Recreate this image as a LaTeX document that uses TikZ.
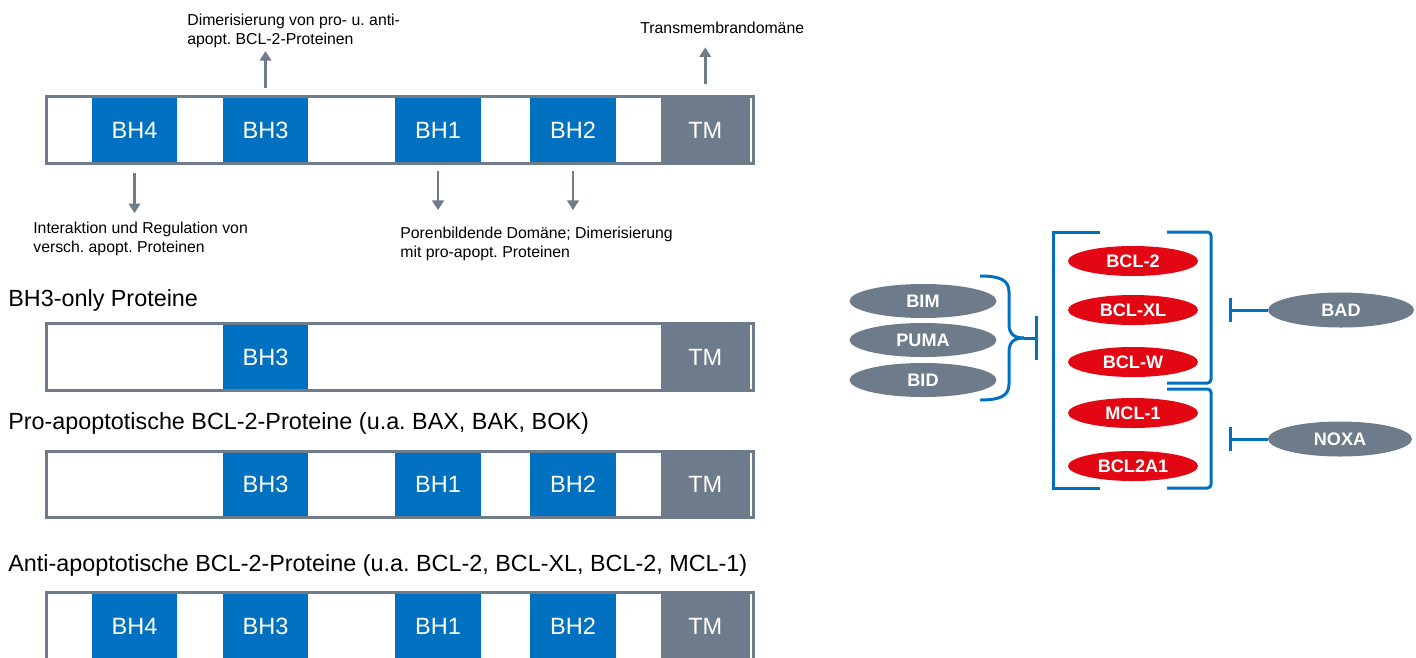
\documentclass[tikz,border=0pt]{standalone}
\usepackage{fontspec}
\setmainfont{Liberation Sans}
\usetikzlibrary{arrows.meta,shapes.geometric,calc}
\definecolor{bhblue}{HTML}{0070C0}
\definecolor{slate}{HTML}{6E7B8B}
\definecolor{bclred}{HTML}{E30613}
\frenchspacing
\begin{document}
\begin{tikzpicture}[x=0.02cm,y=-0.02cm,
  barbg/.style={fill=white,draw=none,minimum width=14.13cm,minimum height=1.32cm,inner sep=0},
  barline/.style={draw=slate,line width=1.7pt},
  bhbox/.style={fill=bhblue,text=white,minimum height=1.32cm,inner sep=0,font=\fontsize{13.4}{16}\selectfont},
  tmbox/.style={bhbox,fill=slate},
  heading/.style={anchor=base west,inner sep=0,font=\fontsize{13.3}{16}\selectfont},
  note/.style={anchor=north west,inner sep=0,align=left,font=\fontsize{9}{10.8}\selectfont},
  arr/.style={draw=slate,line width=1.5pt,-{Triangle[width=6.5pt,length=5.5pt]}},
  protgray/.style={ellipse,fill=slate,text=white,inner sep=0,minimum width=2.94cm,minimum height=0.68cm,font=\bfseries\fontsize{10.3}{12}\selectfont},
  protred/.style={ellipse,fill=bclred,text=white,inner sep=0,minimum width=2.6cm,minimum height=0.6cm,font=\bfseries\fontsize{10.3}{12}\selectfont},
  brk/.style={draw=bhblue,line width=1.7pt},
  inh/.style={draw=bhblue,line width=1.7pt,-{Bar[width=14pt]}}
]
\useasboundingbox (0,0) rectangle (1416,657);
\clip (0,0) rectangle (1416,657);

% ---------- bar 1 (full domain structure)
\node[barbg] (bar1) at (399.75,130) {};
\node[bhbox,minimum width=1.7cm] (a4) at (134.5,130) {BH4};
\node[bhbox,minimum width=1.7cm] (a3) at (265.5,130) {BH3};
\node[bhbox,minimum width=1.72cm] (a1) at (438,130) {BH1};
\node[bhbox,minimum width=1.72cm] (a2) at (573,130) {BH2};
\node[tmbox,minimum width=1.77cm] (at) at (705.25,130) {TM};
\fill[white] (749.5,99) rectangle (751.5,161);
\draw[barline] (bar1.south west) rectangle (bar1.north east);

% notes
\node[note] (n1) at (187,14) {Dimerisierung von pro- u. anti-\\apopt. BCL-2-Proteinen};
\node[note] (n2) at (640,22) {Transmembrandomäne};
\node[note] (n3) at (33,222) {Interaktion und Regulation von\\versch. apopt. Proteinen};
\node[note] (n4) at (400,227) {Porenbildende Domäne; Dimerisierung\\mit pro-apopt. Proteinen};

\draw[arr,shorten <=5pt,shorten >=1.5pt] (a3.north) -- (a3.north |- n1.south);
\draw[arr,shorten <=7.4pt,shorten >=7.4pt] (at.north) -- (at.north |- n2.south);
\draw[arr,shorten <=5.7pt,shorten >=5pt] (a4.south) -- (a4.south |- n3.north);
\draw[arr,shorten <=4.5pt,shorten >=9.6pt] (a1.south) -- (a1.south |- n4.north);
\draw[arr,shorten <=4.5pt,shorten >=9.6pt] (a2.south) -- (a2.south |- n4.north);

% ---------- bar 2 (BH3-only)
\node[heading] (h2) at (8,306) {BH3-only Proteine};
\node[barbg] (bar2) at (399.75,357) {};
\node[bhbox,minimum width=1.7cm] (b3) at (265.5,357) {BH3};
\node[tmbox,minimum width=1.77cm] (bt) at (705.25,357) {TM};
\fill[white] (749.5,326) rectangle (751.5,388);
\draw[barline] (bar2.south west) rectangle (bar2.north east);

% ---------- bar 3 (pro-apoptotic)
\node[heading] (h3) at (8,429) {Pro-apoptotische BCL-2-Proteine (u.a. BAX, BAK, BOK)};
\node[barbg] (bar3) at (399.75,484.5) {};
\node[bhbox,minimum width=1.7cm] (c3) at (265.5,484.5) {BH3};
\node[bhbox,minimum width=1.72cm] (c1) at (438,484.5) {BH1};
\node[bhbox,minimum width=1.72cm] (c2) at (573,484.5) {BH2};
\node[tmbox,minimum width=1.77cm] (ct) at (705.25,484.5) {TM};
\fill[white] (749.5,453.5) rectangle (751.5,515.5);
\draw[barline] (bar3.south west) rectangle (bar3.north east);

% ---------- bar 4 (anti-apoptotic)
\node[heading] (h4) at (8,571) {Anti-apoptotische BCL-2-Proteine (u.a. BCL-2, BCL-XL, BCL-2, MCL-1)};
\node[barbg] (bar4) at (399.75,626) {};
\node[bhbox,minimum width=1.7cm] (d4) at (134.5,626) {BH4};
\node[bhbox,minimum width=1.7cm] (d3) at (265.5,626) {BH3};
\node[bhbox,minimum width=1.72cm] (d1) at (438,626) {BH1};
\node[bhbox,minimum width=1.72cm] (d2) at (573,626) {BH2};
\node[tmbox,minimum width=1.77cm] (dt) at (705.25,626) {TM};
\fill[white] (749.5,595) rectangle (751.5,657);
\draw[barline] (bar4.south west) rectangle (bar4.north east);

% ---------- right: interaction scheme
\node[protgray] (bim) at (923,301) {BIM};
\node[protgray] (puma) at (923,340) {PUMA};
\node[protgray] (bid) at (923,380) {BID};

\node[protred] (bcl2) at (1133,261) {BCL-2};
\node[protred] (bclxl) at (1133,310) {BCL-XL};
\node[protred] (bclw) at (1133,362) {BCL-W};
\node[protred] (mcl1) at (1133,413) {MCL-1};
\node[protred] (bcl2a1) at (1133,466) {BCL2A1};

\node[protgray,minimum width=2.92cm,minimum height=0.7cm] (bad) at (1341,310) {BAD};
\node[protgray,minimum width=2.88cm,minimum height=0.7cm] (noxa) at (1340,439) {NOXA};

% brace around BIM/PUMA/BID
\coordinate (bracetip) at (1024,338);
\coordinate (bracebar) at (1038,338);
\draw[brk] (980,276) .. controls (1000,276) and (1009,280) .. (1009,292) -- (1009,324)
  .. controls (1009,334) and (1014,338) .. (bracetip);
\draw[brk] (980,400) .. controls (1000,400) and (1009,396) .. (1009,384) -- (1009,352)
  .. controls (1009,342) and (1014,338) .. (bracetip);
\draw[inh,-{Bar[width=25.5pt]}] (bracetip) -- (bracebar);

% brackets around anti-apoptotic proteins
\draw[brk] (1100,232) -- (1053,232) -- (1053,488) -- (1100,488);
\draw[brk,rounded corners=2pt] (1167,232) -- (1211,232) -- (1211,383) -- (1167,383);
\draw[brk,rounded corners=2pt] (1167,389) -- (1211,389) -- (1211,488) -- (1167,488);

% inhibitions
\coordinate (badbar) at (1229,310);
\coordinate (noxabar) at (1229,439);
\draw[inh] (bad.west) -- (badbar);
\draw[inh] (noxa.west) -- (noxabar);
\end{tikzpicture}
\end{document}
